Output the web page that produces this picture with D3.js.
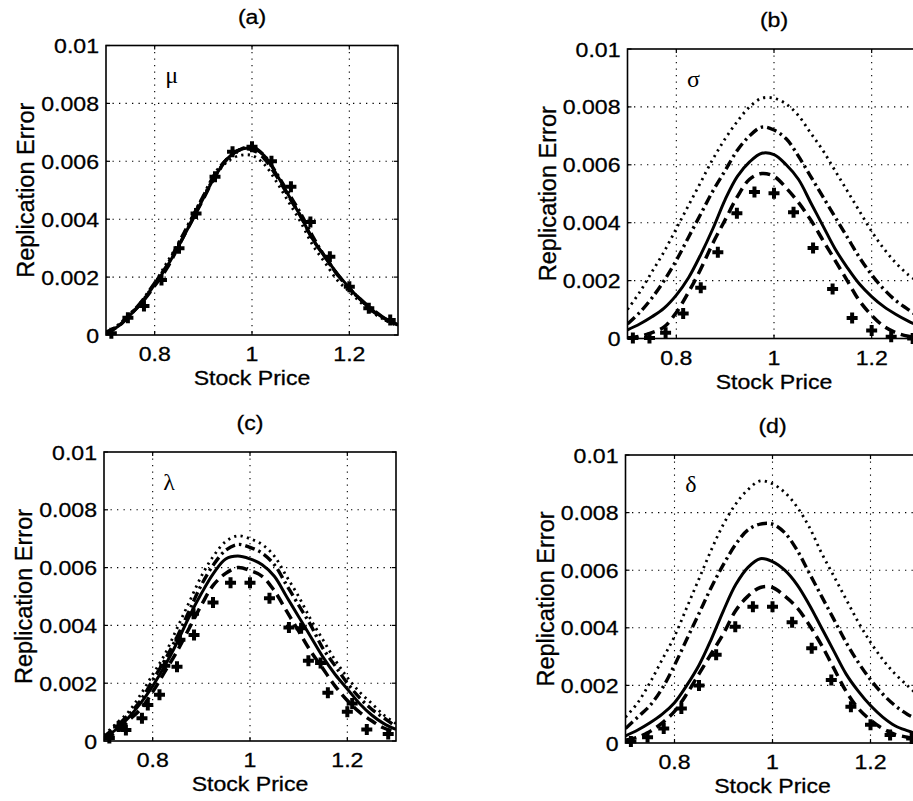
<!DOCTYPE html>
<html><head><meta charset="utf-8">
<script src="https://cdn.jsdelivr.net/npm/d3@7"></script>
<style>body{margin:0;background:#fff}svg{display:block}</style>
</head><body><svg id="chart" width="913" height="801"></svg>
<script>
// ---------- data ----------
const stockGrid = [0.7,0.725,0.75,0.775,0.8,0.825,0.85,0.875,0.9,0.925,0.95,0.975,1.0,1.025,1.05,1.075,1.1,1.125,1.15,1.175,1.2,1.225,1.25,1.275,1.3];
const xTicks = [0.8, 1, 1.2];
const xTickLabels = ["0.8", "1", "1.2"];
const yTicks = [0, 0.002, 0.004, 0.006, 0.008, 0.01];
const yTickLabels = ["0", "0.002", "0.004", "0.006", "0.008", "0.01"];
const panelTitles = ["(a)", "(b)", "(c)", "(d)"];
const paramSymbols = ["μ", "σ", "λ", "δ"];
const xLabel = "Stock Price";
const yLabel = "Replication Error";
const markerX = [0.711,0.745,0.778,0.814,0.85,0.885,0.924,0.96,1.0,1.04,1.08,1.12,1.16,1.2,1.24,1.284];

const aSolid   = [0.00005,0.0003,0.0007,0.00115,0.00175,0.00236,0.0031,0.0039,0.00472,0.0055,0.0061,0.0064,0.00645,0.0062,0.00556,0.00483,0.0041,0.0033,0.0027,0.00213,0.00163,0.00118,0.00082,0.00055,0.00035];
const aDashed  = [0.00005,0.0003,0.0007,0.00115,0.0017,0.0023,0.0031,0.0039,0.0047,0.0055,0.0061,0.0064,0.0064,0.0061,0.0055,0.0048,0.0041,0.0033,0.0027,0.0021,0.0016,0.0012,0.0008,0.00055,0.00035];
const aDashDot = [0.0001,0.00032,0.00072,0.0012,0.0018,0.0024,0.0032,0.004,0.0048,0.0056,0.0061,0.0064,0.0065,0.0062,0.0056,0.0049,0.0042,0.0034,0.0027,0.0021,0.0016,0.0012,0.00085,0.00055,0.00035];
const aDotted  = [0.00008,0.00035,0.00075,0.0012,0.0018,0.0025,0.0032,0.004,0.0048,0.0055,0.006,0.0062,0.0062,0.0059,0.0053,0.0046,0.0039,0.0031,0.0025,0.0019,0.0015,0.0011,0.00075,0.0005,0.0003];
const aMarks   = [0.00006,0.0006,0.001,0.0019,0.003,0.0042,0.00547,0.00633,0.0065,0.006,0.00512,0.0039,0.0027,0.00167,0.00092,0.00052];

const bSolid   = [0.0003,0.0005,0.00075,0.00105,0.0015,0.0021,0.0029,0.0038,0.0048,0.0056,0.0061,0.0064,0.00635,0.006,0.0055,0.0047,0.0039,0.0031,0.00245,0.00188,0.00145,0.0011,0.00083,0.0006,0.0004];
const bDashed  = [0.00002,0.00008,0.0002,0.0004,0.0009,0.0016,0.0024,0.0033,0.0041,0.0049,0.0055,0.0057,0.0056,0.0052,0.0047,0.0041,0.0034,0.0027,0.002,0.0013,0.0008,0.00042,0.0002,0.00008,0.00002];
const bDashDot = [0.0005,0.0009,0.0014,0.002,0.0027,0.0035,0.0043,0.0051,0.0058,0.0065,0.007,0.0073,0.0072,0.0069,0.0063,0.0056,0.0049,0.0042,0.0035,0.0028,0.0022,0.0017,0.0013,0.001,0.0007];
const bDotted  = [0.001,0.0016,0.0023,0.003,0.0038,0.0046,0.0054,0.0062,0.0069,0.0075,0.008,0.0083,0.0083,0.0081,0.0077,0.0071,0.0065,0.0058,0.0051,0.0044,0.0037,0.0031,0.0026,0.0022,0.0019];
const bMarks   = [0.00002,0.00002,0.0002,0.00086,0.00175,0.00298,0.00433,0.00506,0.00502,0.00436,0.00313,0.00171,0.00071,0.00028,0.00006,0.0];

const cSolid   = [0.0001,0.0004,0.0008,0.0013,0.0019,0.0026,0.0034,0.0043,0.0051,0.0058,0.0063,0.0064,0.0063,0.0061,0.0057,0.005,0.0043,0.0036,0.0029,0.0023,0.0018,0.0013,0.0009,0.0006,0.0004];
const cDashed  = [0.00008,0.0003,0.0007,0.0011,0.0017,0.0024,0.0031,0.0039,0.0047,0.0054,0.0058,0.006,0.0059,0.0057,0.0052,0.0045,0.0038,0.0031,0.0025,0.0019,0.0014,0.001,0.0007,0.00045,0.0003];
const cDashDot = [0.00015,0.0005,0.0009,0.0014,0.0021,0.0028,0.0036,0.0045,0.0054,0.0061,0.0066,0.0068,0.0067,0.0065,0.0061,0.0054,0.0047,0.004,0.0032,0.0026,0.002,0.0015,0.0011,0.0008,0.0005];
const cDotted  = [0.0002,0.0006,0.001,0.0016,0.0023,0.003,0.0039,0.0048,0.0057,0.0064,0.0069,0.0071,0.007,0.0068,0.0064,0.0057,0.005,0.0042,0.0035,0.0028,0.0022,0.0017,0.0013,0.0009,0.0006];
const cMarks   = [0.0001,0.00038,0.00079,0.0016,0.00257,0.00367,0.00479,0.00548,0.00548,0.00494,0.00393,0.00278,0.00167,0.00101,0.0004,0.00024];
const cMark2X  = [0.73,0.79,0.825,0.856,0.884,1.105,1.145,1.21];
const cMarks2  = [0.0005,0.00125,0.0026,0.0035,0.0044,0.0039,0.0027,0.0013];

const dSolid   = [0.00025,0.00045,0.0007,0.001,0.0014,0.002,0.0027,0.0036,0.0046,0.0055,0.0061,0.0064,0.0063,0.006,0.0055,0.0048,0.004,0.0032,0.0024,0.0018,0.0013,0.0009,0.0006,0.00043,0.0003];
const dDashed  = [0.0001,0.0002,0.0004,0.0007,0.0011,0.0017,0.0024,0.0031,0.0038,0.0046,0.0051,0.0054,0.0054,0.0051,0.0047,0.0041,0.0034,0.0026,0.0018,0.0012,0.0008,0.0005,0.0003,0.0002,0.0001];
const dDashDot = [0.0005,0.0009,0.0013,0.0019,0.0027,0.0036,0.0045,0.0054,0.0062,0.0069,0.0074,0.0076,0.0076,0.0073,0.0067,0.0059,0.0051,0.0043,0.0035,0.0028,0.0022,0.0017,0.0013,0.001,0.0008];
const dDotted  = [0.0009,0.0014,0.0021,0.0029,0.0037,0.0047,0.0057,0.0067,0.0076,0.0083,0.0088,0.0091,0.009,0.0087,0.0082,0.0075,0.0066,0.0058,0.005,0.0042,0.0035,0.0029,0.0024,0.002,0.0016];
const dMarks   = [0.00005,0.0002,0.0005,0.0012,0.002,0.00306,0.00404,0.00473,0.00473,0.00419,0.00329,0.00219,0.00126,0.00063,0.00028,0.00016];

// ---------- layout ----------
const FONT = "'Liberation Sans', Arial, Helvetica, sans-serif";
const FS = 21, SX = 1.1;
const layout = [
  {x0:106,   x1:398,   top:45.5, bot:335},
  {x0:627.5, x1:920.5, top:49,   bot:338.5},
  {x0:104,   x1:396,   top:452,  bot:741},
  {x0:625.5, x1:919.5, top:455,  bot:743}
];
const series = [
  {solid:aSolid, dashed:aDashed, dashdot:aDashDot, dotted:aDotted, marks:aMarks},
  {solid:bSolid, dashed:bDashed, dashdot:bDashDot, dotted:bDotted, marks:bMarks},
  {solid:cSolid, dashed:cDashed, dashdot:cDashDot, dotted:cDotted, marks:cMarks, marks2:cMarks2, marks2X:cMark2X},
  {solid:dSolid, dashed:dDashed, dashdot:dDashDot, dotted:dDotted, marks:dMarks}
];
const styles = {
  dotted:  {w:2.8, dash:"2.2,4.3"},
  dashdot: {w:3.4, dash:"10,4,2.5,4"},
  dashed:  {w:3.5, dash:"11,6"},
  solid:   {w:3.0, dash:null}
};

const svg = d3.select("#chart");
svg.append("rect").attr("width",913).attr("height",801).attr("fill","#fff");

function sText(g, x, y, str, anchor, size) {
  return g.append("text")
    .attr("transform", `translate(${x},${y}) scale(${SX},1)`)
    .attr("text-anchor", anchor)
    .attr("font-family", FONT).attr("font-size", size || FS)
    .attr("fill", "#000").attr("stroke", "#000").attr("stroke-width", 0.3)
    .text(str);
}

layout.forEach((L, i) => {
  const S = series[i];
  const x = d3.scaleLinear().domain([0.7, 1.3]).range([L.x0, L.x1]);
  const y = d3.scaleLinear().domain([0, 0.01]).range([L.bot, L.top]);
  const g = svg.append("g");
  const clipId = "clip" + i;
  svg.append("clipPath").attr("id", clipId).append("rect")
    .attr("x", L.x0 - 6).attr("y", L.top - 20).attr("width", L.x1 - L.x0 + 6).attr("height", L.bot - L.top + 26);

  // grid
  const grid = g.append("g").attr("stroke", "#000").attr("stroke-width", 1.1).attr("stroke-dasharray", "1.3,5.2");
  xTicks.forEach(t => grid.append("line").attr("x1", x(t)).attr("x2", x(t)).attr("y1", L.top).attr("y2", L.bot));
  yTicks.slice(1, -1).forEach(t => grid.append("line").attr("x1", L.x0).attr("x2", L.x1).attr("y1", y(t)).attr("y2", y(t)));

  // curves
  const lineClip = "lclip" + i;
  svg.append("clipPath").attr("id", lineClip).append("rect")
    .attr("x", L.x0).attr("y", L.top).attr("width", L.x1 - L.x0).attr("height", L.bot - L.top);
  const lg = g.append("g").attr("clip-path", `url(#${lineClip})`);
  ["dotted", "dashdot", "dashed", "solid"].forEach(k => {
    const line = d3.line().x((d, j) => x(stockGrid[j])).y(d => y(d)).curve(d3.curveCatmullRom.alpha(0.5));
    lg.append("path").attr("d", line(S[k])).attr("fill", "none").attr("stroke", "#000")
      .attr("stroke-width", styles[k].w).attr("stroke-dasharray", styles[k].dash);
  });
  // markers
  const cg = g.append("g").attr("clip-path", `url(#${clipId})`);
  const plus = "M-5.5,0H5.5M0,-5.5V5.5";
  S.marks.forEach((v, j) => cg.append("path").attr("d", plus)
    .attr("transform", `translate(${x(markerX[j])},${y(v)})`)
    .attr("stroke", "#000").attr("stroke-width", 4).attr("fill", "none"));
  if (S.marks2) S.marks2.forEach((v, j) => cg.append("path").attr("d", plus)
    .attr("transform", `translate(${x(S.marks2X[j])},${y(v)})`)
    .attr("stroke", "#000").attr("stroke-width", 4).attr("fill", "none"));

  // box + ticks
  g.append("rect").attr("x", L.x0).attr("y", L.top).attr("width", L.x1 - L.x0).attr("height", L.bot - L.top)
    .attr("fill", "none").attr("stroke", "#000").attr("stroke-width", 1.6);
  const tk = g.append("g").attr("stroke", "#000").attr("stroke-width", 1.2);
  xTicks.forEach(t => {
    tk.append("line").attr("x1", x(t)).attr("x2", x(t)).attr("y1", L.bot).attr("y2", L.bot - 4);
    tk.append("line").attr("x1", x(t)).attr("x2", x(t)).attr("y1", L.top).attr("y2", L.top + 4);
  });
  yTicks.forEach(t => {
    tk.append("line").attr("x1", L.x0).attr("x2", L.x0 + 4).attr("y1", y(t)).attr("y2", y(t));
    tk.append("line").attr("x1", L.x1).attr("x2", L.x1 - 4).attr("y1", y(t)).attr("y2", y(t));
  });

  // tick labels
  xTicks.forEach((t, j) => sText(g, x(t), L.bot + 26, xTickLabels[j], "middle"));
  yTicks.forEach((t, j) => sText(g, L.x0 - 7, y(t) + 7.5, yTickLabels[j], "end"));

  // axis labels
  sText(g, (L.x0 + L.x1) / 2, L.bot + 50, xLabel, "middle");
  g.append("text")
    .attr("transform", `translate(${L.x0 - 72},${(L.top + L.bot) / 2}) rotate(-90) scale(1.12,1.1)`)
    .attr("text-anchor", "middle").attr("font-family", FONT).attr("font-size", FS)
    .attr("stroke", "#000").attr("stroke-width", 0.3)
    .text(yLabel);
  // title
  sText(g, (L.x0 + L.x1) / 2, L.top - 22, panelTitles[i], "middle");
  // parameter symbol
  g.append("text").attr("x", x(0.822)).attr("y", y(0.0087))
    .attr("font-family", "'Liberation Serif', 'DejaVu Serif', serif").attr("font-size", 24)
    .text(paramSymbols[i]);
});
</script>
</body></html>
